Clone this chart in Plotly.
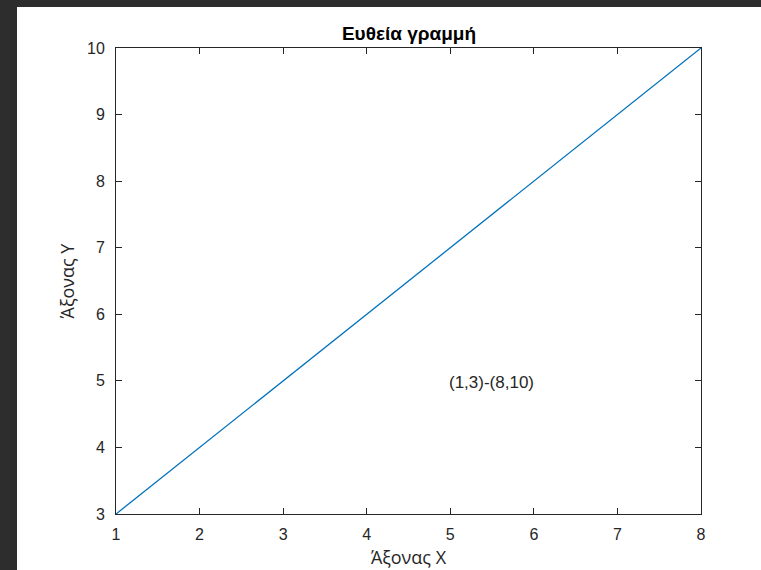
import plotly.graph_objects as go

x_vals = [1, 8]
y_vals = [3, 10]
x_ticks = [1, 2, 3, 4, 5, 6, 7, 8]
y_ticks = [3, 4, 5, 6, 7, 8, 9, 10]
title_text = "Ευθεία γραμμή"
x_label = "Άξονας X"
y_label = "Άξονας Y"
note_text = "(1,3)-(8,10)"
note_pos = (5, 5)

W, H = 761, 570
L, R, T, B = 116, 60, 48, 56
pw, ph = W - L - R, H - T - B

def px_to_paper_x(px):
    return (px - L) / pw

def py_to_paper_y(py):
    return (H - B - py) / ph

fig = go.Figure()
fig.add_trace(go.Scatter(x=x_vals, y=y_vals, mode="lines",
                         line=dict(color="#0072BD", width=1.3),
                         hoverinfo="skip", showlegend=False))

fig.add_annotation(x=note_pos[0], y=note_pos[1], text=note_text, showarrow=False,
                   xanchor="left", yanchor="middle", xshift=-3, yshift=-2,
                   font=dict(family="Arial, Liberation Sans", size=17, color="#262626"))

# dark frame around the figure (white canvas drawn over dark paper)
fig.add_shape(type="rect", xref="paper", yref="paper", layer="below",
              x0=px_to_paper_x(17), x1=px_to_paper_x(W + 5),
              y0=py_to_paper_y(H + 5), y1=py_to_paper_y(7),
              fillcolor="white", line=dict(width=0))

axis_common = dict(showgrid=False, zeroline=False, showline=True, linecolor="#262626",
                   linewidth=1, mirror="ticks", ticks="inside", ticklen=6,
                   tickcolor="#262626", tickwidth=1, automargin=False,
                   tickfont=dict(family="Arial, Liberation Sans", size=16, color="#262626"))

fig.update_xaxes(range=[1, 8], tickvals=x_ticks, ticktext=[str(v) for v in x_ticks],
                 title=dict(text=x_label, standoff=9,
                            font=dict(family="Open Sans", size=18, color="#262626")),
                 ticklabelstandoff=6, **axis_common)
fig.update_yaxes(range=[3, 10], tickvals=y_ticks, ticktext=[str(v) for v in y_ticks],
                 title=dict(text=y_label, standoff=7,
                            font=dict(family="Open Sans", size=18, color="#262626")),
                 ticklabelstandoff=7, **axis_common)

fig.update_layout(
    width=W, height=H,
    margin=dict(l=L, r=R, t=T, b=B, autoexpand=False),
    paper_bgcolor="#2d2d2d",
    plot_bgcolor="white",
    title=dict(text="<b>" + title_text + "</b>", x=px_to_paper_x(409), xref="paper",
               xanchor="center", y=1 - 33 / H, yanchor="middle",
               font=dict(family="Arial, Liberation Sans", size=19, color="#000000")),
)

fig.write_html("out.html")
